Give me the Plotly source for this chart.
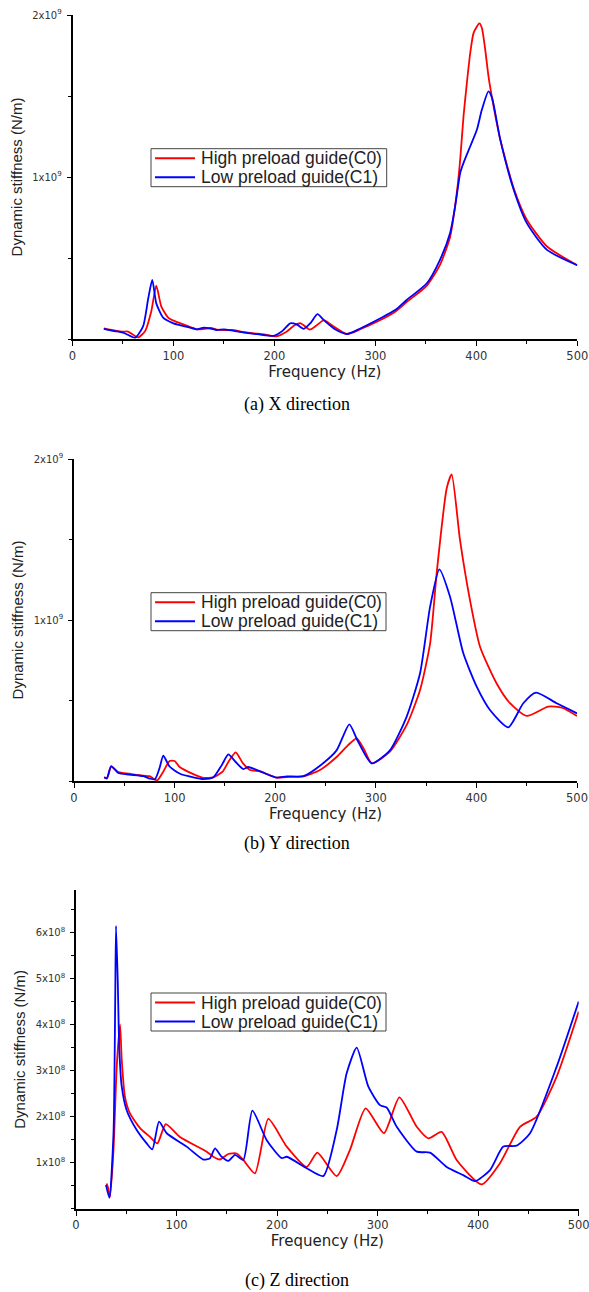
import plotly.graph_objects as go

# ---------------- data ----------------
# (a) X direction
xa_f_c0 = [31, 40, 50, 55, 65, 72, 78, 83, 88, 95, 100, 110, 123, 130, 137, 143, 150, 160, 167, 180, 190, 202,
           212, 220, 226, 235, 242, 249, 258, 272, 285, 305, 320, 331, 351, 364, 374, 381, 384, 387.3, 390.6, 394,
           397.3, 403, 405.5, 408.8, 412, 415.5, 423.7, 437, 450, 470, 500]
xa_v_c0 = [0.066e9, 0.055e9, 0.045e9, 0.046e9, 0.010e9, 0.05e9, 0.17e9, 0.33e9, 0.20e9, 0.13e9, 0.113e9, 0.09e9,
           0.06e9, 0.062e9, 0.068e9, 0.058e9, 0.055e9, 0.055e9, 0.045e9, 0.035e9, 0.028e9, 0.017e9,
           0.045e9, 0.085e9, 0.097e9, 0.058e9, 0.085e9, 0.117e9, 0.08e9, 0.031e9, 0.06e9, 0.117e9, 0.17e9,
           0.228e9, 0.33e9, 0.458e9, 0.63e9, 0.92e9, 1.107e9, 1.375e9, 1.58e9, 1.767e9, 1.89e9, 1.948e9,
           1.92e9, 1.787e9, 1.622e9, 1.49e9, 1.231e9, 0.93e9, 0.736e9, 0.571e9, 0.455e9]
xa_f_c1 = [31, 40, 50, 62, 70, 75, 79, 83, 90, 100, 110, 123, 130, 137, 143, 150, 160, 170, 185, 199, 208,
           215.6, 222, 229, 236, 242.6, 250, 260, 271.7, 285, 305, 320, 331, 351, 364, 374, 379, 384, 387.3,
           394, 400.6, 405.5, 412, 415.5, 423.7, 437, 450, 470, 500]
xa_v_c1 = [0.062e9, 0.05e9, 0.04e9, 0.008e9, 0.08e9, 0.25e9, 0.365e9, 0.22e9, 0.13e9, 0.097e9, 0.08e9, 0.06e9,
           0.07e9, 0.064e9, 0.055e9, 0.06e9, 0.05e9, 0.04e9, 0.028e9, 0.02e9, 0.05e9, 0.097e9, 0.09e9,
           0.063e9, 0.10e9, 0.153e9, 0.11e9, 0.06e9, 0.031e9, 0.065e9, 0.128e9, 0.18e9, 0.241e9, 0.344e9,
           0.489e9, 0.655e9, 0.818e9, 1.025e9, 1.087e9, 1.19e9, 1.293e9, 1.416e9, 1.529e9, 1.49e9, 1.231e9,
           0.921e9, 0.715e9, 0.55e9, 0.455e9]

# (b) Y direction
yb_f_c0 = [30, 33, 37, 44, 55, 69, 75, 82.7, 88, 95, 100, 105, 118.6, 128.5, 138.5, 148, 153.4, 160.7, 168, 175,
           185, 201.5, 211, 228, 244.5, 261, 272, 281, 288, 296, 314, 330.7, 344, 354, 360.5, 370.5, 375.4,
           383.7, 393.6, 403.6, 420, 433.4, 450, 471.5, 485, 500]
yb_v_c0 = [0.023e9, 0.02e9, 0.089e9, 0.055e9, 0.045e9, 0.033e9, 0.03e9, 0.004e9, 0.05e9, 0.124e9, 0.124e9,
           0.087e9, 0.043e9, 0.02e9, 0.023e9, 0.06e9, 0.118e9, 0.178e9, 0.109e9, 0.068e9, 0.06e9, 0.021e9,
           0.025e9, 0.028e9, 0.068e9, 0.149e9, 0.22e9, 0.265e9, 0.20e9, 0.11e9, 0.182e9, 0.348e9, 0.565e9,
           0.855e9, 1.29e9, 1.818e9, 1.905e9, 1.497e9, 1.124e9, 0.834e9, 0.607e9, 0.483e9, 0.404e9, 0.462e9,
           0.455e9, 0.404e9]
yb_f_c1 = [30, 32.5, 37, 44, 55, 69, 75.5, 80.4, 85, 88.8, 95, 105.4, 118.6, 128.5, 138.5, 147, 153.4, 160.7,
           168.3, 173.3, 185, 201.5, 211.4, 228, 244.5, 261, 273.7, 282, 295.9, 314, 330.7, 344, 354, 363.2,
           373.8, 387, 400.3, 413.5, 431.7, 446.6, 459.2, 479.8, 500]
yb_v_c1 = [0.023e9, 0.015e9, 0.093e9, 0.05e9, 0.04e9, 0.03e9, 0.015e9, 0.01e9, 0.08e9, 0.157e9, 0.09e9,
           0.045e9, 0.023e9, 0.012e9, 0.023e9, 0.10e9, 0.165e9, 0.118e9, 0.074e9, 0.087e9, 0.06e9, 0.021e9,
           0.029e9, 0.03e9, 0.095e9, 0.19e9, 0.352e9, 0.25e9, 0.11e9, 0.19e9, 0.40e9, 0.669e9, 1.083e9,
           1.315e9, 1.145e9, 0.793e9, 0.586e9, 0.441e9, 0.333e9, 0.483e9, 0.549e9, 0.483e9, 0.42e9]

# (c) Z direction
zc_f_c0 = [30.5, 32, 33.8, 37.3, 40.5, 43.8, 45.5, 48.7, 53.7, 63.7, 73.6, 80.9, 89.3, 103.4, 130, 136.6, 143.2,
           151.5, 159.8, 166.4, 178, 191.3, 209.6, 229.5, 240, 259.3, 272.5, 288.1, 306.3, 321.6, 338.9, 350.5,
           363.7, 378.6, 403.5, 421.7, 441.6, 458.2, 478.1, 500]
zc_v_c0 = [0.55e8, 0.45e8, 0.26e8, 1.28e8, 3.08e8, 4.0e8, 3.23e8, 2.43e8, 2.07e8, 1.75e8, 1.56e8, 1.42e8,
           1.84e8, 1.56e8, 1.24e8, 1.13e8, 1.07e8, 1.19e8, 1.20e8, 1.06e8, 0.77e8, 1.95e8, 1.35e8, 0.91e8,
           1.22e8, 0.71e8, 1.28e8, 2.18e8, 1.64e8, 2.42e8, 1.78e8, 1.53e8, 1.67e8, 1.06e8, 0.53e8, 0.99e8,
           1.78e8, 2.0e8, 2.87e8, 4.28e8]
zc_f_c1 = [29.8, 33.2, 37.3, 39, 39.8, 41.5, 43.1, 45.5, 50.4, 60.4, 70.3, 75.9, 82.6, 90.2, 110, 126.6, 133,
           138.3, 144, 151.5, 158.2, 166.4, 175.4, 189.7, 204.6, 209.6, 229.5, 246, 259.3, 269.2, 279.2, 290.8,
           302.4, 309, 319, 338.9, 352.1, 368.7, 385.2, 396.9, 411.8, 425, 438.3, 451.6, 478, 500]
zc_v_c1 = [0.52e8, 0.24e8, 1.64e8, 4.53e8, 6.14e8, 4.97e8, 3.45e8, 2.65e8, 2.14e8, 1.71e8, 1.42e8, 1.29e8,
           1.89e8, 1.64e8, 1.35e8, 1.07e8, 1.09e8, 1.31e8, 1.15e8, 1.04e8, 1.17e8, 1.06e8, 2.13e8, 1.49e8,
           1.10e8, 1.13e8, 0.88e8, 0.71e8, 1.71e8, 2.94e8, 3.50e8, 2.65e8, 2.25e8, 2.20e8, 1.78e8, 1.24e8,
           1.22e8, 0.91e8, 0.73e8, 0.60e8, 0.84e8, 1.35e8, 1.37e8, 1.64e8, 3.08e8, 4.50e8]

series_names = ["High preload guide(C0)", "Low preload guide(C1)"]
captions = ["(a) X direction", "(b) Y direction", "(c) Z direction"]
x_ticks = [0, 100, 200, 300, 400, 500]
y_ticks_ab = [1e9, 2e9]
y_ticktext_ab = ["1x10<sup>9</sup>", "2x10<sup>9</sup>"]
y_ticks_c = [1e8, 2e8, 3e8, 4e8, 5e8, 6e8]
y_ticktext_c = [f"{i}x10<sup>8</sup>" for i in range(1, 7)]

# ---------------- figure ----------------
W, H = 589, 1292
RED, BLUE = "#ff0000", "#0000ff"
COLORS = [RED, BLUE]
fig = go.Figure()

panels = [
    (xa_f_c0, xa_v_c0, xa_f_c1, xa_v_c1, ""),
    (yb_f_c0, yb_v_c0, yb_f_c1, yb_v_c1, "2"),
    (zc_f_c0, zc_v_c0, zc_f_c1, zc_v_c1, "3"),
]
for f0, v0, f1, v1, ax in panels:
    for f, v, name, col in [(f0, v0, series_names[0], RED), (f1, v1, series_names[1], BLUE)]:
        fig.add_trace(go.Scatter(x=f, y=v, mode="lines", name=name, showlegend=False,
                                 line=dict(color=col, width=1.8, shape="spline", smoothing=0.6),
                                 xaxis="x" + ax, yaxis="y" + ax))

# pixel geometry -> paper domains
geo = [  # x0, x1, ybottom, ytop (pixels)
    (72.5, 577.3, 339, 15),
    (74, 577, 781, 459),
    (76, 578.7, 1208.8, 890),
]
yranges = [[0, 2e9], [0, 2e9], [0, 6.92e8]]
tickfont = dict(family="DejaVu Sans", size=11.5, color="#333333")
titlefont_x = dict(family="DejaVu Sans", size=15, color="#222222")
titlefont_y = dict(family="Arial", size=15, color="#222222")

layout = dict(width=W, height=H, margin=dict(l=0, r=0, t=0, b=0), autosize=False,
              paper_bgcolor="white", plot_bgcolor="white", showlegend=False)

for i, (x0, x1, yb, yt) in enumerate(geo):
    sfx = "" if i == 0 else str(i + 1)
    layout["xaxis" + sfx] = dict(
        domain=[x0 / W, x1 / W], range=[0, 500], anchor="y" + sfx,
        showline=True, linecolor="black", linewidth=1.6, showgrid=False, zeroline=False,
        ticks="outside", ticklen=5, tickwidth=1.2, tickcolor="black",
        tickvals=x_ticks, ticktext=[str(t) for t in x_ticks], tickfont=tickfont,
        ticklabeloverflow="allow",
        minor=dict(dtick=50, ticks="outside", ticklen=3, tickwidth=1.2, tickcolor="black"),
        title=dict(text="Frequency (Hz)", font=titlefont_x, standoff=4), automargin=False,
    )
    if i < 2:
        yv, yt_txt, mdt = y_ticks_ab, y_ticktext_ab, 0.5e9
    else:
        yv, yt_txt, mdt = y_ticks_c, y_ticktext_c, 0.5e8
    layout["yaxis" + sfx] = dict(
        domain=[(H - yb) / H, (H - yt) / H], range=yranges[i], anchor="x" + sfx,
        showline=True, linecolor="black", linewidth=1.6, showgrid=False, zeroline=False,
        ticks="outside", ticklen=4, tickwidth=1.2, tickcolor="black",
        tickvals=yv, ticktext=yt_txt, tickfont=dict(family="DejaVu Sans", size=10, color="#333333"),
        ticklabelstandoff=3, ticklabeloverflow="allow",
        minor=dict(dtick=mdt, ticks="outside", ticklen=3, tickwidth=1.2, tickcolor="black"),
        title=dict(text="Dynamic stiffness (N/m)", font=titlefont_y, standoff=6), automargin=False,
    )

fig.update_layout(**layout)

# legend boxes (one per panel), drawn in paper coordinates
leg_boxes = [(151, 386.7, 148.7, 186.7), (151, 386, 592.7, 630.7), (151, 386, 993, 1031)]
shapes = []
for (lx0, lx1, ly0, ly1) in leg_boxes:
    shapes.append(dict(type="rect", xref="paper", yref="paper", x0=lx0 / W, x1=lx1 / W,
                       y0=(H - ly1) / H, y1=(H - ly0) / H, line=dict(color="#444444", width=1),
                       fillcolor="white", layer="above"))
    for k, (name, col) in enumerate(zip(series_names, COLORS)):
        ry = ly0 + 9.5 + 19 * k
        shapes.append(dict(type="line", xref="paper", yref="paper", x0=(lx0 + 4) / W, x1=(lx0 + 44) / W,
                           y0=(H - ry) / H, y1=(H - ry) / H, line=dict(color=col, width=2), layer="above"))
        fig.add_annotation(text=name, x=(lx0 + 48) / W, y=(H - ry) / H, xref="paper", yref="paper",
                           showarrow=False, xanchor="left", yanchor="middle",
                           font=dict(family="Arial", size=17.5, color="#222222"))
fig.update_layout(shapes=shapes)

cap_y = [405, 843, 1280]
for txt, cy in zip(captions, cap_y):
    fig.add_annotation(text=txt, x=296.5 / W, y=(H - cy) / H, xref="paper", yref="paper",
                       showarrow=False, xanchor="center", yanchor="middle",
                       font=dict(family="Liberation Serif", size=18, color="black"))

fig.write_html("out.html", config={"displayModeBar": False},
               post_script="document.body.style.margin='0';document.body.style.padding='0';"
                           "document.documentElement.style.overflow='hidden';")
